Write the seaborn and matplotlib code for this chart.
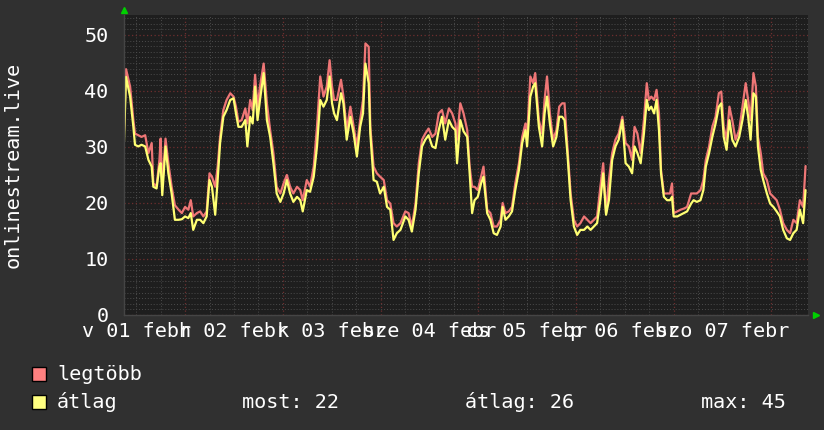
import matplotlib
matplotlib.use('Agg')
import matplotlib.pyplot as plt
import matplotlib.ticker as mticker
from matplotlib.patches import Rectangle
import seaborn as sns
import pandas as pd

# hours since start of graph
hours = [0, 0.5, 1.5, 2.3, 2.7, 3.5, 4.3, 5.2, 6.0, 6.8,
         7.2, 8.0, 8.7, 9.0, 9.4, 10.2, 10.9, 11.7, 12.5, 13.4,
         14.2, 15.0, 15.8, 16.4, 17.0, 17.9, 18.7, 19.5, 20.3, 21.0,
         21.6, 22.4, 23.0, 23.6, 24.4, 25.2, 26.1, 26.9, 27.5, 28.1,
         28.9, 29.8, 30.3, 31.0, 31.6, 32.2, 32.8, 33.4, 34.3, 35.1,
         35.9, 36.7, 37.5, 38.4, 39.2, 40.0, 40.8, 41.6, 42.5, 43.3,
         43.9, 44.9, 45.7, 46.6, 47.4, 48.2, 49.0, 49.8, 50.5, 51.1,
         51.6, 52.3, 53.3, 53.9, 54.7, 55.6, 56.4, 57.2, 58.0, 58.7,
         59.3, 60.1, 60.5, 61.3, 62.1, 62.9, 63.8, 64.6, 65.4, 66.2,
         67.0, 67.9, 69.1, 69.9, 70.7, 71.6, 72.4, 73.2, 74.0, 74.8,
         75.7, 76.5, 77.3, 78.1, 78.9, 79.8, 80.6, 81.4, 81.8, 82.6,
         83.4, 84.3, 84.9, 85.5, 86.1, 86.9, 87.7, 88.3, 89.2, 90.0,
         90.8, 91.6, 92.5, 93.0, 93.7, 94.5, 95.3, 96.1, 97.0, 97.8,
         98.6, 99.0, 99.8, 100.5, 101.0, 101.9, 102.7, 103.3, 103.9, 104.6,
         105.4, 106.2, 106.9, 107.6, 108.2, 108.9, 109.7, 110.5, 111.3, 112.1,
         113.0, 113.8, 114.6, 115.4, 116.2, 117.0, 117.7, 118.4, 119.1, 119.9,
         120.7, 121.5, 122.4, 123.2, 124.0, 124.8, 125.4, 126.1, 126.9, 127.7,
         128.4, 128.9, 129.5, 130.2, 130.8, 131.4, 131.9, 132.6, 133.4, 134.1,
         134.6, 135.0, 135.9, 136.7, 137.5, 138.3, 139.3, 139.9, 140.7, 141.6,
         142.3, 142.9, 143.7, 144.5, 145.3, 146.1, 146.7, 147.3, 148.0, 148.7,
         149.4, 150.2, 151.1, 151.9, 152.7, 153.3, 153.9, 154.6, 155.2, 155.7,
         156.4, 157.0, 157.9, 158.7, 159.5, 160.3, 161.1, 161.9, 162.8, 163.6,
         164.4, 165.2, 166.0, 166.8, 167.4]

legtobb = [33.0, 43.9, 40.8, 34.8, 32.4, 32.1, 31.8, 32.1, 28.9, 30.7,
           23.5, 23.0, 27.7, 31.5, 22.9, 31.5, 27.1, 22.9, 19.6, 18.8,
           18.2, 19.3, 18.8, 20.5, 17.6, 18.2, 18.5, 17.6, 18.5, 25.3,
           24.7, 22.9, 26.5, 31.8, 36.6, 38.4, 39.6, 39.0, 37.2, 34.5,
           34.8, 36.9, 34.2, 38.4, 36.6, 42.9, 37.2, 40.8, 44.9, 37.8,
           33.0, 28.9, 22.9, 21.7, 23.5, 25.0, 22.9, 21.7, 22.9, 22.3,
           20.5, 24.1, 22.9, 26.5, 33.6, 42.6, 39.0, 40.8, 45.5, 40.8,
           38.4, 38.4, 42.0, 39.0, 33.0, 37.2, 33.6, 30.1, 34.8, 38.4,
           48.5, 47.9, 33.6, 26.5, 25.3, 24.7, 24.1, 20.5, 19.9, 16.4,
           15.8, 16.4, 18.5, 18.2, 15.8, 19.9, 27.1, 31.3, 32.4, 33.3,
           31.8, 32.4, 36.0, 36.6, 34.2, 36.9, 36.0, 34.2, 31.3, 37.8,
           36.0, 33.0, 26.5, 22.9, 22.9, 22.3, 24.7, 26.5, 18.8, 18.2,
           15.8, 15.8, 17.0, 20.0, 18.2, 18.5, 19.3, 23.5, 27.1, 31.8,
           34.2, 31.8, 42.6, 41.4, 43.2, 34.8, 32.4, 38.4, 42.6, 36.0,
           31.3, 33.0, 37.2, 37.8, 37.8, 30.1, 21.7, 17.0, 15.8, 16.4,
           17.6, 17.0, 16.4, 17.0, 17.6, 22.9, 27.1, 18.2, 24.1, 28.9,
           31.3, 32.4, 35.4, 30.7, 30.1, 27.7, 33.6, 32.4, 28.9, 34.8,
           41.4, 38.4, 39.0, 38.4, 40.2, 36.0, 25.9, 21.7, 21.7, 21.7,
           23.5, 18.2, 18.5, 18.8, 19.0, 19.3, 21.7, 21.7, 21.7, 22.3,
           24.1, 27.7, 30.1, 33.6, 35.4, 39.6, 39.9, 33.6, 31.3, 37.2,
           34.8, 31.3, 33.0, 37.2, 41.4, 38.4, 34.8, 43.2, 40.8, 31.8,
           28.9, 25.3, 24.1, 21.7, 21.1, 20.5, 18.8, 16.4, 15.2, 14.6,
           17.0, 16.4, 20.5, 19.3, 26.6]

atlag = [31.0, 42.5, 39.0, 33.6, 30.4, 30.1, 30.4, 30.1, 27.7, 26.5,
         22.9, 22.6, 26.5, 27.1, 21.4, 30.1, 25.3, 21.7, 17.0, 17.0,
         17.1, 17.6, 17.3, 18.2, 15.2, 17.0, 17.0, 16.4, 17.6, 24.1,
         22.9, 17.9, 24.1, 30.7, 35.4, 36.6, 38.4, 38.7, 36.0, 33.6,
         33.6, 34.8, 30.1, 35.4, 34.2, 40.8, 34.8, 38.4, 43.2, 34.8,
         31.8, 27.1, 21.7, 20.2, 21.7, 24.1, 21.7, 20.2, 21.1, 20.5,
         18.5, 22.3, 22.0, 24.7, 30.1, 38.4, 37.2, 38.4, 42.6, 37.8,
         36.0, 34.8, 39.6, 37.8, 31.3, 35.4, 32.4, 28.3, 33.6, 36.0,
         44.9, 41.4, 32.4, 24.1, 23.8, 21.7, 22.9, 19.3, 18.8, 13.4,
         14.6, 15.2, 17.6, 17.0, 14.9, 18.8, 25.3, 30.1, 31.3, 32.1,
         30.1, 29.8, 33.0, 35.4, 31.3, 34.8, 33.6, 33.0, 27.1, 34.8,
         32.8, 31.8, 25.3, 18.2, 20.5, 21.1, 23.5, 24.7, 18.2, 17.0,
         14.6, 14.3, 15.8, 19.3, 17.0, 17.6, 18.5, 22.3, 25.9, 30.7,
         33.0, 30.1, 39.0, 40.8, 41.4, 33.6, 30.1, 36.0, 39.0, 34.2,
         30.1, 31.8, 35.4, 35.4, 34.8, 28.9, 20.5, 15.8, 14.3, 15.2,
         15.2, 15.8, 15.2, 15.8, 16.4, 20.5, 25.3, 17.9, 20.5, 27.7,
         30.1, 31.3, 34.8, 27.1, 26.5, 25.3, 30.1, 28.9, 27.1, 32.4,
         38.4, 36.6, 37.2, 36.0, 38.4, 33.0, 25.3, 21.1, 20.5, 20.5,
         21.1, 17.6, 17.6, 17.9, 18.2, 18.5, 19.9, 20.5, 20.2, 20.5,
         22.3, 26.5, 28.9, 31.8, 34.2, 37.2, 37.8, 31.8, 29.5, 34.8,
         31.3, 30.1, 31.8, 34.8, 38.4, 35.4, 31.3, 39.6, 39.0, 30.1,
         25.9, 24.1, 21.7, 19.9, 19.3, 18.5, 17.6, 15.2, 13.7, 13.4,
         14.6, 15.2, 18.8, 16.4, 22.3]

day_labels = ['v 01 febr', 'h 02 febr', 'k 03 febr', 'sze 04 febr',
              'cs 05 febr', 'p 06 febr', 'szo 07 febr']
label_hours = [3, 27, 51, 75, 99, 123, 147]
stats = ['most: 22', 'átlag: 26', 'max: 45']

df = pd.DataFrame({'ora': hours, 'legtöbb': legtobb, 'átlag': atlag})

sns.set_style('dark')
plt.rcParams['font.family'] = ['DejaVu Sans Mono', 'DejaVu Sans']

bg = '#303030'
fig = plt.figure(figsize=(8.24, 4.30), dpi=100, facecolor=bg)
ax = fig.add_axes([124/824, 1-315/430, 684/824, 300/430])
ax.set_facecolor('#1e1e1e')

sns.lineplot(data=df, x='ora', y='legtöbb', color='#ee7676', lw=1.6, ax=ax)
sns.lineplot(data=df, x='ora', y='átlag', color='#ffff73', lw=1.6, ax=ax)

ax.set_xlim(0, 168)
ax.set_ylim(0, 300/5.6)

# grid: red major, grey dotted minor
ax.yaxis.set_major_locator(mticker.MultipleLocator(10))
ax.yaxis.set_minor_locator(mticker.MultipleLocator(1))
ax.xaxis.set_major_locator(mticker.MultipleLocator(24, offset=15))
ax.xaxis.set_minor_locator(mticker.MultipleLocator(6, offset=3))
ax.xaxis.set_major_formatter(mticker.NullFormatter())
lab = dict(zip(label_hours, day_labels))
ax.xaxis.set_minor_formatter(mticker.FuncFormatter(
    lambda v, p: lab.get(int(round(v)), '') if abs(v - round(v)) < 0.01 else ''))

ax.grid(which='major', color='#6e2e2e', ls=(0, (1, 2)), lw=0.9)
ax.grid(which='minor', color='#4c4c4c', ls=(0, (1, 2)), lw=0.7)
ax.set_axisbelow(True)

ax.tick_params(axis='y', which='major', length=0, pad=11, labelsize=14.5, labelcolor='white')
ax.tick_params(axis='y', which='minor', length=0)
ax.tick_params(axis='x', which='both', length=0, pad=5, labelsize=14.5, labelcolor='white')
ax.set_xlabel('')
ax.set_ylabel('')
for s in ['top', 'right']:
    ax.spines[s].set_visible(False)
for s in ['left', 'bottom']:
    ax.spines[s].set_color('#454545')
    ax.spines[s].set_linewidth(1)

# green arrow heads of the axes
ax.plot([0], [54.5], marker='^', color='#00d000', ms=5, clip_on=False)
ax.plot([169.9], [0], marker='>', color='#00d000', ms=5, clip_on=False)

fig.text(13/824, 1-165/430, 'onlinestream.live', rotation=90, color='white',
         fontsize=14.5, ha='center', va='center')

# legend
legend_rows = [('legtöbb', '#ff8080', 374), ('átlag', '#ffff80', 402)]
for name, col, y in legend_rows:
    fig.add_artist(Rectangle((32/824, 1-(y+7)/430), 14/824, 14/430,
                             transform=fig.transFigure, fc=col, ec='black', lw=1))
    fig.text(57/824, 1-y/430, name, color='white', fontsize=14.5, va='center')
for txt, x in zip(stats, [242, 465, 701]):
    fig.text(x/824, 1-402/430, txt, color='white', fontsize=14.5, va='center')

fig.savefig('out.png', dpi=100, facecolor=bg)
